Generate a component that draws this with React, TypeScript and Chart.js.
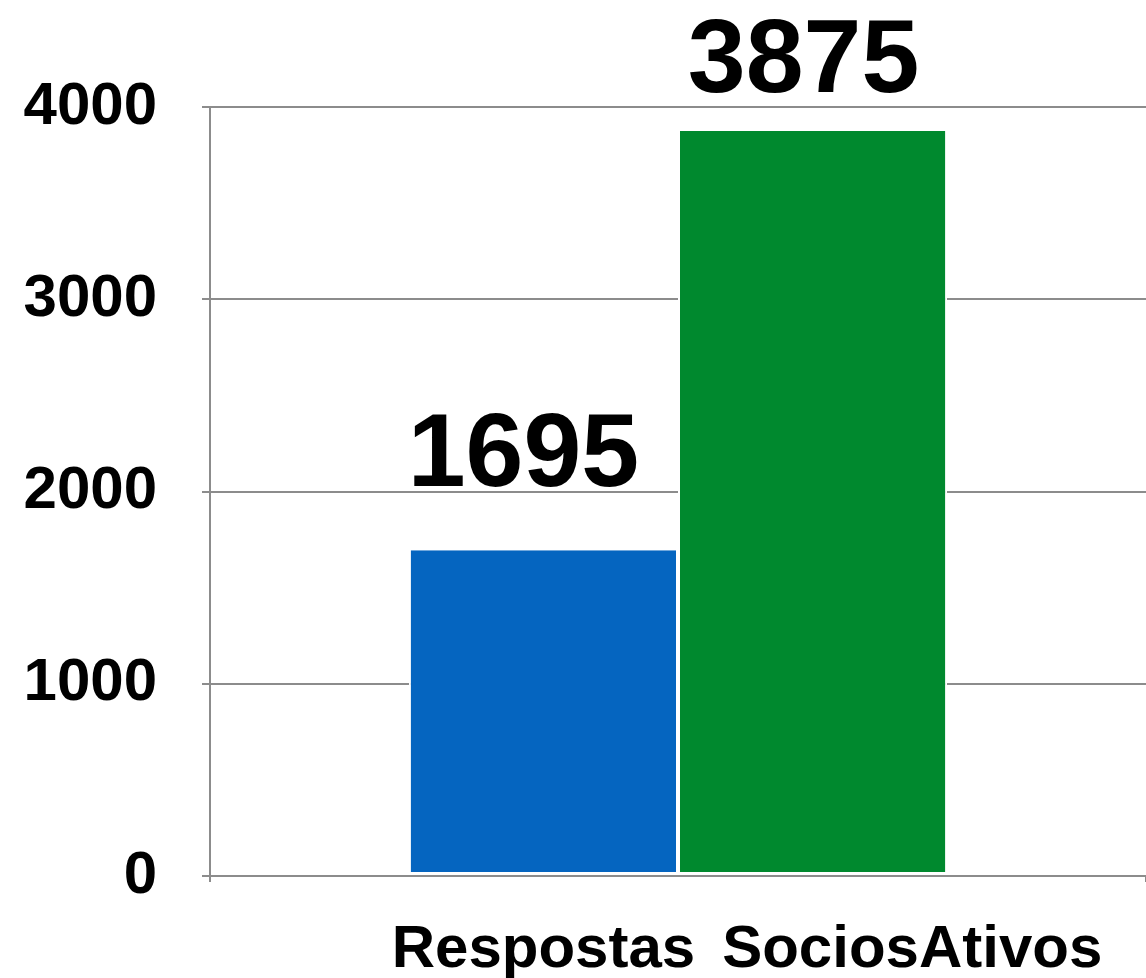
import React, { useEffect, useRef } from 'react';
import { Chart, registerables } from 'chart.js';

Chart.register(...registerables);

const categories = [''];
const seriesNames = ['Respostas', 'SociosAtivos'];
const respostasValues = [1695];
const sociosAtivosValues = [3875];
const yMin = 0;
const yMax = 4000;
const yStep = 1000;

const FONT = '"Liberation Sans", Arial, Helvetica, sans-serif';

const labelsPlugin = {
  id: 'customLabels',
  afterDatasetsDraw(chart: any) {
    const ctx = chart.ctx;
    ctx.save();
    ctx.fillStyle = '#000';
    ctx.font = `bold 104px ${FONT}`;
    ctx.textAlign = 'center';
    ctx.textBaseline = 'alphabetic';
    chart.data.datasets.forEach((ds: any, i: number) => {
      const meta = chart.getDatasetMeta(i);
      meta.data.forEach((bar: any, j: number) => {
        const v = ds.data[j];
        ctx.fillText(String(v), bar.x + (ds.labelDx || 0), bar.y - (ds.labelDy || 0));
      });
    });
    ctx.font = `bold 60px ${FONT}`;
    const b0 = chart.getDatasetMeta(0).data[0];
    const baseY = chart.chartArea.bottom + 91;
    ctx.textAlign = 'center';
    ctx.fillText(seriesNames[0], b0.x, baseY);
    const w0 = ctx.measureText(seriesNames[0]).width;
    ctx.textAlign = 'left';
    ctx.fillText(seriesNames[1], b0.x + w0 / 2 + 27, baseY);
    ctx.restore();
  },
};

export default function App() {
  const ref = useRef<HTMLCanvasElement | null>(null);
  useEffect(() => {
    document.body.style.margin = '0';
    const canvas = ref.current;
    if (!canvas) return;
    const chart = new Chart(canvas, {
      type: 'bar',
      data: {
        labels: categories,
        datasets: [
          {
            label: seriesNames[0],
            data: respostasValues,
            backgroundColor: '#0565C0',
            borderColor: '#ffffff',
            borderWidth: { top: 0, left: 2, right: 2, bottom: 3 },
            borderSkipped: false,
            labelDx: -20,
            labelDy: 64,
          } as any,
          {
            label: seriesNames[1],
            data: sociosAtivosValues,
            backgroundColor: '#00892E',
            borderColor: '#ffffff',
            borderWidth: { top: 0, left: 2, right: 2, bottom: 3 },
            borderSkipped: false,
            labelDx: -9,
            labelDy: 39,
          } as any,
        ],
      },
      options: {
        responsive: false,
        animation: false,
        devicePixelRatio: 1,
        layout: { padding: { left: 21, top: 107, right: 0, bottom: 96 } },
        plugins: {
          legend: { display: false },
          tooltip: { enabled: false },
          title: { display: false },
        },
        datasets: {
          bar: { categoryPercentage: 0.575, barPercentage: 1 },
        },
        scales: {
          x: {
            z: 1,
            offset: true,
            grid: { drawOnChartArea: false, drawTicks: true, tickLength: 6, color: '#8c8c8c', lineWidth: 2 },
            border: { display: true, color: '#8c8c8c', width: 2 },
            ticks: { display: false },
          },
          y: {
            min: yMin,
            max: yMax,
            afterFit: (scale: any) => {
              scale.width = 189;
            },
            ticks: {
              stepSize: yStep,
              color: '#000',
              padding: 45,
              font: { family: FONT, size: 60, weight: 'bold' },
              callback: (v: any) => String(v),
            },
            grid: { color: '#8c8c8c', lineWidth: 2, tickLength: 8 },
            border: { display: true, color: '#8c8c8c', width: 2 },
          },
        },
      },
      plugins: [labelsPlugin],
    } as any);
    return () => chart.destroy();
  }, []);
  return (
    <div style={{ width: 1146, height: 978 }}>
      <canvas ref={ref} width={1146} height={978} style={{ display: 'block' }} />
    </div>
  );
}
